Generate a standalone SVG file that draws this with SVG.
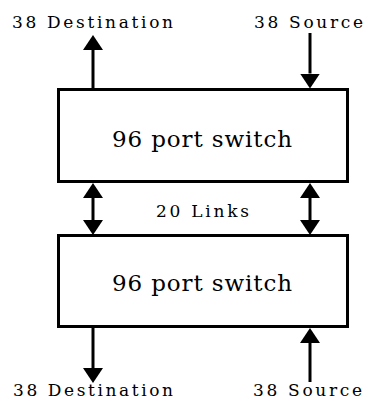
<svg xmlns="http://www.w3.org/2000/svg" width="365" height="403" viewBox="0 0 365 403">
  <style>
    .box { fill: #ffffff; stroke: #000000; stroke-width: 3; }
    .wire { stroke: #000000; stroke-width: 3; fill: none; }
    .label { font-family: 'DejaVu Serif', serif; font-size: 17px; fill: #000000; }
    .title { font-family: 'DejaVu Serif', serif; font-size: 23px; fill: #000000; text-anchor: middle; }
  </style>
  <defs>
    <marker id="head" viewBox="0 0 15 20" refX="0" refY="10" markerWidth="15" markerHeight="20" markerUnits="userSpaceOnUse" orient="auto-start-reverse">
      <path d="M0,0 L15,10 L0,20 Z" fill="#000000"/>
    </marker>
  </defs>
  <rect width="365" height="403" fill="#ffffff"/>

  <g id="switch-top">
    <rect class="box" x="58.5" y="89.5" width="289" height="92"/>
    <text class="title" x="202" y="147" textLength="180" lengthAdjust="spacing">96 port switch</text>
  </g>

  <g id="switch-bottom">
    <rect class="box" x="58.5" y="235.5" width="289" height="91"/>
    <text class="title" x="202" y="291" textLength="180" lengthAdjust="spacing">96 port switch</text>
  </g>

  <g id="labels">
    <text class="label" x="12" y="28" textLength="161" lengthAdjust="spacing">38 Destination</text>
    <text class="label" x="254" y="28" textLength="109" lengthAdjust="spacing">38 Source</text>
    <text class="label" x="156" y="217" textLength="93" lengthAdjust="spacing">20 Links</text>
    <text class="label" x="13" y="396" textLength="160" lengthAdjust="spacing">38 Destination</text>
    <text class="label" x="253" y="396" textLength="109" lengthAdjust="spacing">38 Source</text>
  </g>

  <g id="connectors">
    <line class="wire" x1="93" y1="88" x2="93" y2="50" marker-end="url(#head)"/>
    <line class="wire" x1="310" y1="33" x2="310" y2="73.5" marker-end="url(#head)"/>
    <line class="wire" x1="93" y1="198" x2="93" y2="220" marker-start="url(#head)" marker-end="url(#head)"/>
    <line class="wire" x1="310" y1="198" x2="310" y2="220" marker-start="url(#head)" marker-end="url(#head)"/>
    <line class="wire" x1="93" y1="328" x2="93" y2="368" marker-end="url(#head)"/>
    <line class="wire" x1="310" y1="382" x2="310" y2="343" marker-end="url(#head)"/>
  </g>
</svg>
